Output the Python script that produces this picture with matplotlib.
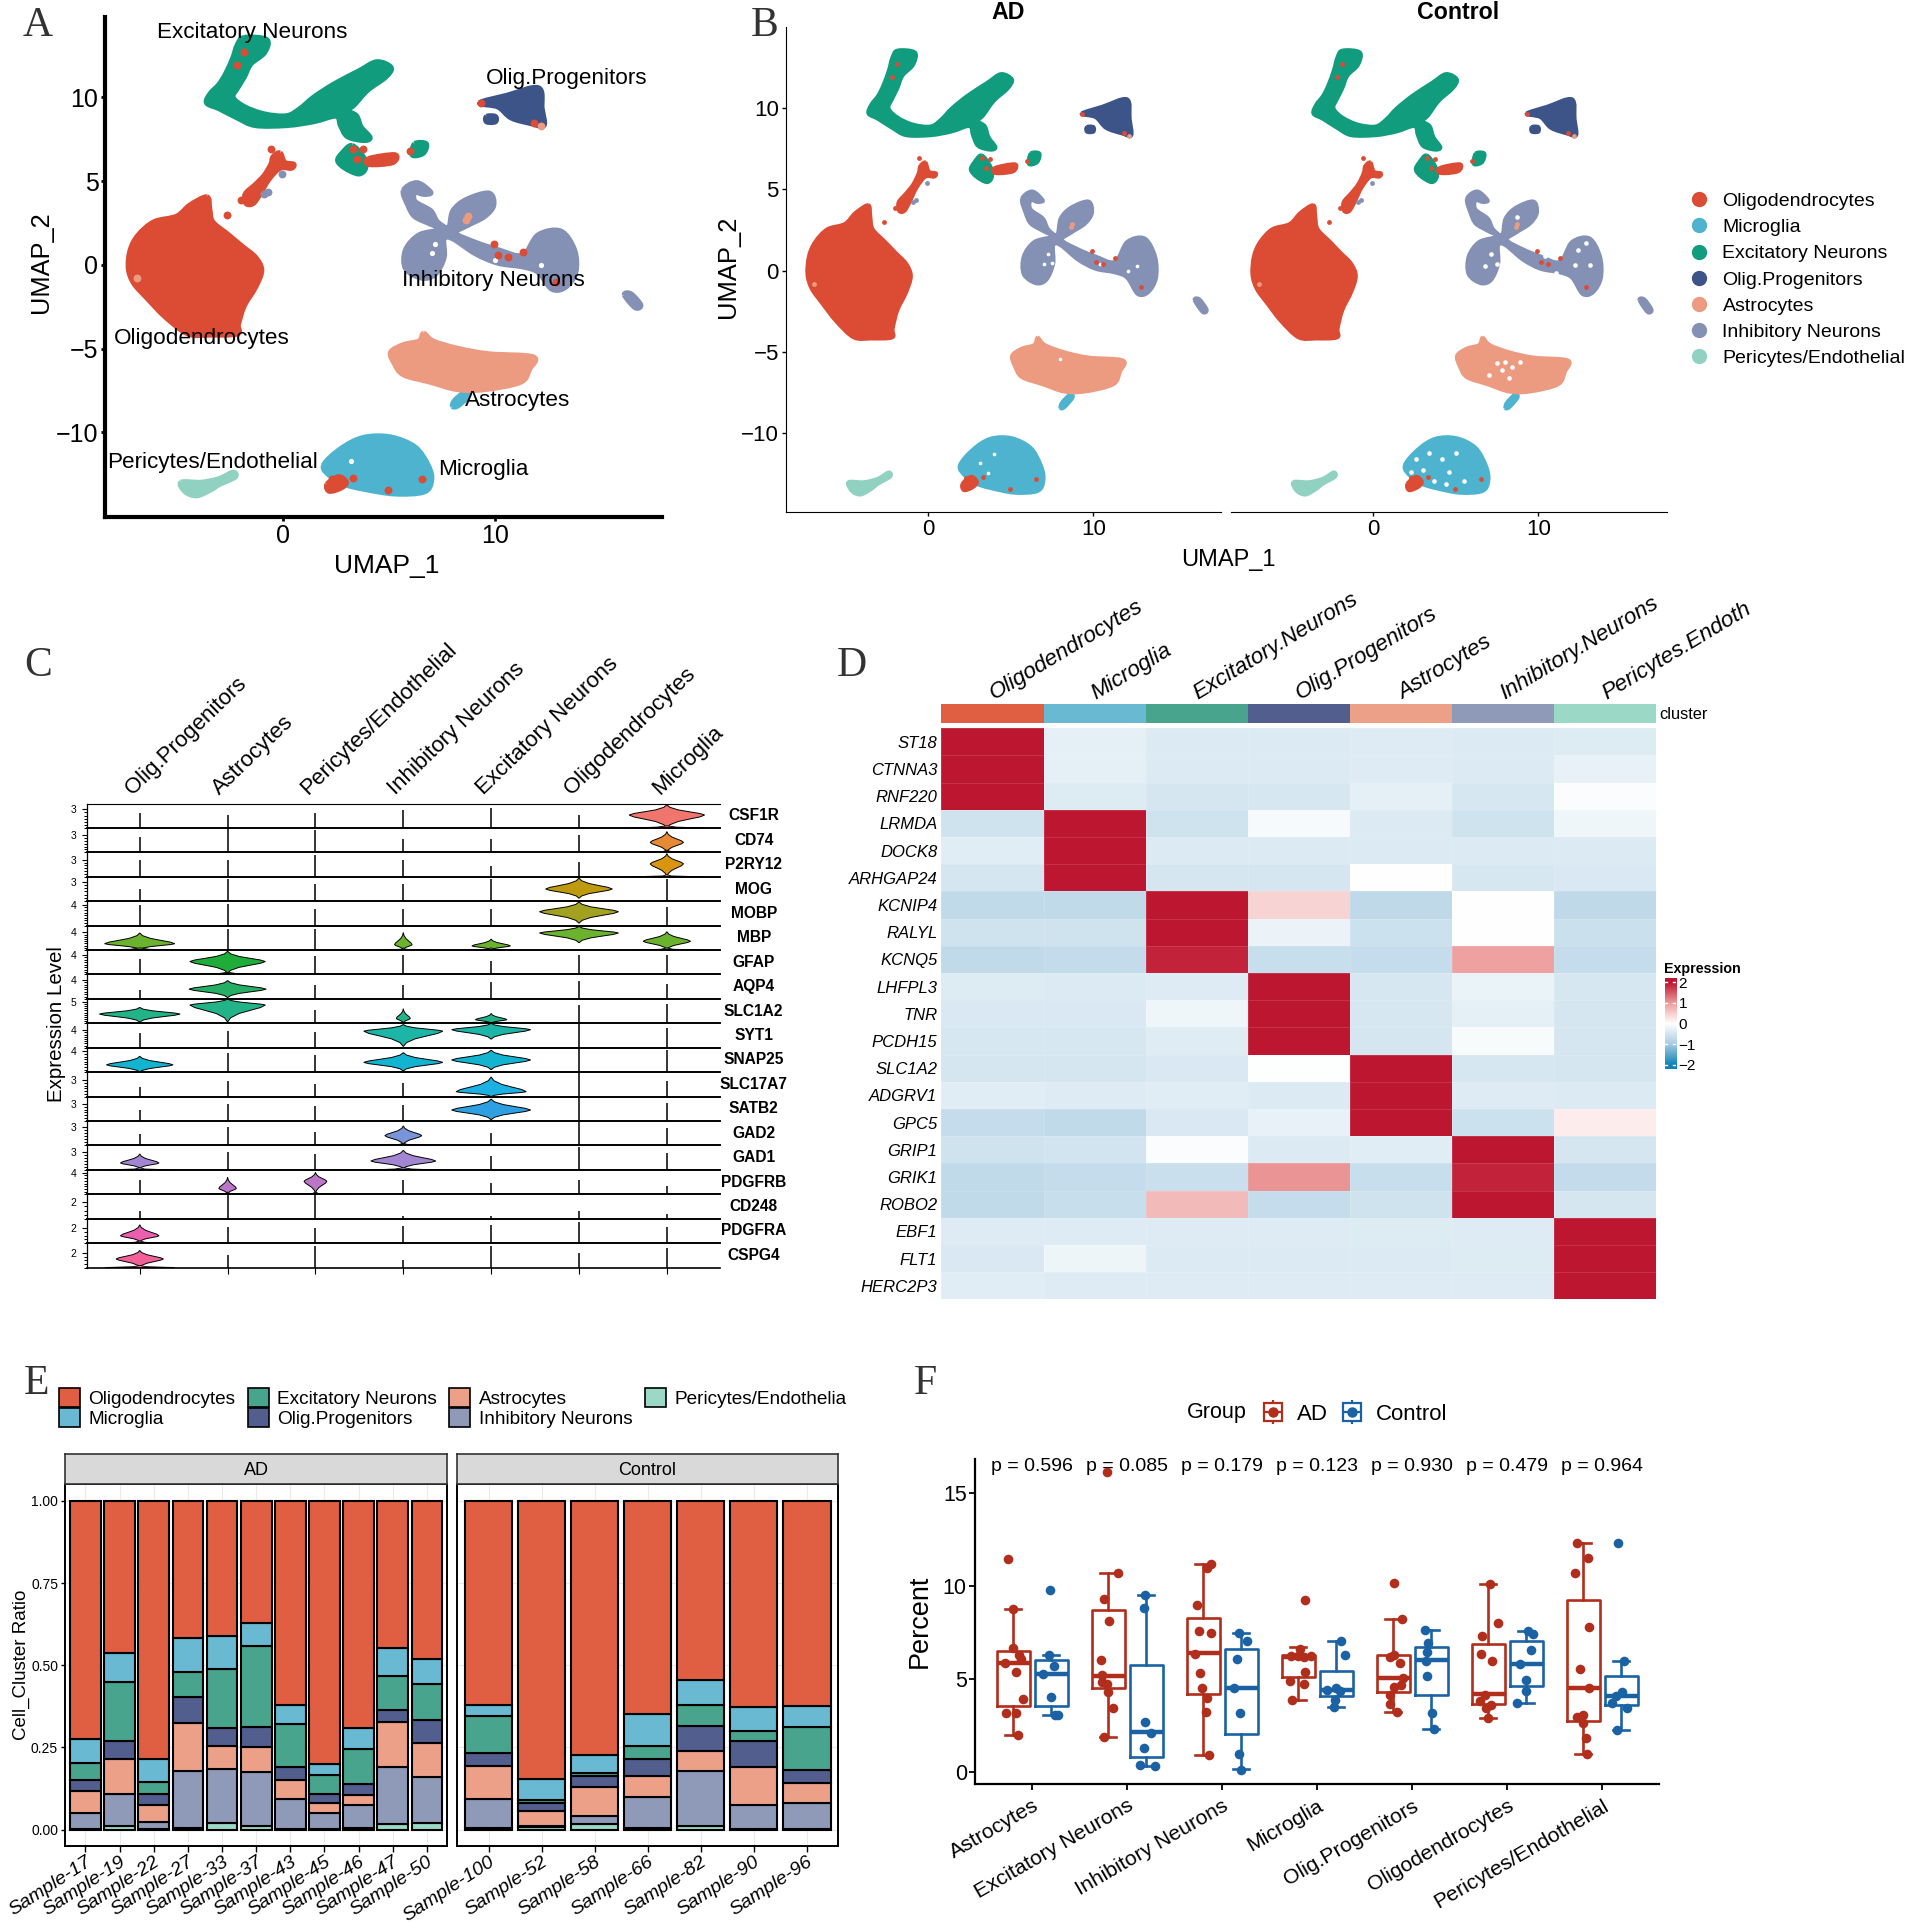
import matplotlib
matplotlib.use("Agg")
import matplotlib.pyplot as plt
import numpy as np
from matplotlib.colors import LinearSegmentedColormap, ListedColormap
from matplotlib.legend_handler import HandlerTuple
from matplotlib.lines import Line2D
from matplotlib.patches import Patch, PathPatch
from matplotlib.path import Path

plt.rcParams["font.family"] = ["Liberation Sans", "DejaVu Sans"]

# layout is measured on a roughly 1556 wide copy of the picture
W, H = 1556.5, 1567.9

CELL_TYPES = ["Oligodendrocytes", "Microglia", "Excitatory Neurons", "Olig.Progenitors",
              "Astrocytes", "Inhibitory Neurons", "Pericytes/Endothelial"]
UMAP_COLORS = ["#DC4B33", "#4DB3CE", "#129C7E", "#3C5488", "#EC9A80", "#8491B4", "#91D1C2"]
BAR_COLORS = ["#E05F42", "#68B9D1", "#48A48D", "#525E8E", "#ECA088", "#8F9AB9", "#9BD8C6"]

# ---- UMAP outlines (UMAP_1, UMAP_2)
OLIGO_BLOB = [(-3.6, 4.04), (-3.47, 3.33), (-3.33, 2.56), (-2.58, 1.78), (-1.95, 1.11), (-1.31, 0.44),
              (-1.02, -0.33), (-1.31, -1.33), (-1.84, -2.44), (-2.12, -3.56), (-2.16, -4.11), (-3.43, -4.18),
              (-4.49, -4.11), (-5.55, -3.11), (-6.4, -2.0), (-7.03, -1.11), (-7.29, -0.22), (-7.2, 0.89),
              (-6.82, 1.78), (-6.08, 2.56), (-5.02, 2.89), (-4.39, 3.56)]
OLIGO_STREAK = [(-0.15, 6.67), (0.06, 6.11), (0.49, 6.0), (0.38, 5.78), (-0.15, 5.78), (-0.68, 5.11),
                (-1.1, 4.22), (-1.42, 3.67), (-1.74, 3.67), (-1.78, 4.22), (-1.31, 4.78), (-0.89, 5.33),
                (-0.57, 6.0), (-0.47, 6.44)]
OLIGO_BAR = [(4.03, 6.33), (5.26, 6.56), (5.15, 6.11), (4.08, 6.0)]
OLIGO_PATCH = [(2.08, -13.11), (2.61, -12.67), (2.97, -13.0), (2.71, -13.33), (2.18, -13.51)]
EXC_MAIN = [(-1.84, 13.56), (-0.78, 13.44), (-0.89, 12.67), (-1.53, 12.0), (-1.84, 11.22), (-2.16, 10.56),
            (-2.37, 10.0), (-1.84, 9.44), (-0.89, 9.0), (0.17, 8.89), (0.81, 9.33), (1.44, 10.0), (2.39, 10.78),
            (3.56, 11.56), (4.41, 12.11), (5.08, 11.78), (4.83, 11.22), (3.98, 10.44), (3.35, 9.56), (3.03, 9.22),
            (3.45, 8.89), (3.67, 8.22), (4.09, 7.6), (3.77, 7.44), (3.03, 7.67), (2.71, 8.33), (2.5, 8.89),
            (1.44, 8.56), (0.17, 8.33), (-1.31, 8.33), (-2.16, 8.78), (-3.01, 9.33), (-3.6, 9.67), (-3.43, 10.22),
            (-3.01, 10.78), (-2.69, 11.44), (-2.37, 12.33), (-2.16, 13.11)]
EXC_SMALL = [(3.24, 7.11), (3.77, 6.44), (3.88, 5.78), (3.56, 5.44), (2.92, 5.78), (2.58, 6.22), (2.79, 6.67)]
EXC_TINY = [(6.21, 7.22), (6.74, 7.22), (6.6, 6.67), (6.1, 6.56)]
OPC_MAIN = [(9.28, 9.67), (10.55, 10.11), (12.03, 10.56), (12.2, 9.33), (12.29, 8.33), (11.72, 8.44),
            (10.76, 8.78), (10.13, 9.44)]
OPC_SMALL = [(9.6, 8.85), (10.0, 8.85), (10.0, 8.55), (9.6, 8.55)]
INH_MAIN = [(5.68, 4.44), (6.31, 4.89), (6.95, 4.33), (6.63, 4.22), (6.21, 4.33), (6.21, 3.78), (6.95, 3.22),
            (7.27, 2.56), (7.8, 2.22), (8.01, 3.22), (8.64, 3.89), (9.7, 4.27), (9.92, 3.56), (9.49, 2.89),
            (8.64, 2.33), (8.11, 1.89), (9.07, 1.33), (10.13, 0.89), (11.29, 0.56), (12.03, 1.78), (13.09, 2.0),
            (13.73, 0.89), (13.79, -0.44), (13.31, -1.33), (12.67, -1.44), (12.03, -0.44), (11.29, -0.11),
            (10.13, 0.11), (9.07, 0.67), (8.01, 1.56), (7.58, 1.56), (7.58, 0.44), (7.16, -0.56), (6.53, -0.78),
            (5.78, -0.22), (5.78, 0.89), (6.42, 1.78), (7.48, 2.11), (6.95, 2.44), (6.21, 2.89), (5.89, 3.56)]
INH_TINY = [(16.1, -1.8), (16.4, -1.75), (16.85, -2.4), (16.6, -2.55)]
ASTRO_MAIN = [(6.63, -4.11), (7.06, -4.56), (8.22, -5.0), (9.7, -5.33), (11.78, -5.51), (11.61, -6.22),
              (11.19, -7.0), (9.49, -7.44), (8.22, -7.44), (6.95, -7.0), (5.68, -6.56), (5.25, -5.89),
              (5.08, -5.22), (5.68, -4.78), (6.42, -4.56)]
MICRO_MAIN = [(1.91, -12.0), (2.71, -11.0), (3.77, -10.33), (5.04, -10.29), (6.21, -10.89), (6.84, -12.0),
              (6.99, -12.89), (6.63, -13.56), (5.25, -13.67), (3.77, -13.38), (2.92, -13.11), (2.29, -12.67)]
MICRO_TINY = [(8.0, -8.45), (8.1, -8.1), (8.6, -7.6), (8.75, -7.8), (8.25, -8.4)]
PERI_MAIN = [(-4.81, -13.0), (-3.86, -13.0), (-3.01, -12.78), (-2.37, -12.4), (-2.27, -12.67), (-3.01, -13.11),
             (-3.43, -13.44), (-4.07, -13.78), (-4.6, -13.56)]

# drawn in this order
UMAP_SHAPES = [(MICRO_MAIN, 1), (MICRO_TINY, 1), (PERI_MAIN, 6), (ASTRO_MAIN, 4), (EXC_MAIN, 2), (EXC_SMALL, 2),
               (EXC_TINY, 2), (OPC_MAIN, 3), (OPC_SMALL, 3), (INH_MAIN, 5), (INH_TINY, 5), (OLIGO_BLOB, 0),
               (OLIGO_STREAK, 0), (OLIGO_BAR, 0), (OLIGO_PATCH, 0)]
OLIGO_DOTS_X = [-0.57, -2.01, -2.65, 3.77, 3.28, 6.0, 9.32, 11.82, 9.92, 10.13, 10.6, 11.29, 12.88, 2.29, 3.31, 4.94,
                6.53, -2.16, -1.84, 3.5]
OLIGO_DOTS_Y = [6.93, 3.89, 3.0, 6.89, 6.93, 6.78, 9.67, 8.49, 1.22, 0.56, 0.44, 0.78, -1.0, -12.78, -12.71, -13.44,
                -12.82, 11.93, 12.71, 6.3]
INH_DOTS_X = [-0.72, -0.89, -0.06]
INH_DOTS_Y = [4.33, 4.22, 5.4]
ASTRO_DOTS_X = [-6.9, 8.64, 8.7, 12.14]
ASTRO_DOTS_Y = [-0.8, 2.67, 2.9, 8.29]

# gaps in the point clouds
HOLES_A_X = [7.16, 7.0, 12.14, 3.2, 10.0]
HOLES_A_Y = [1.22, 0.7, -0.04, -11.7, 0.3]
HOLES_AD_X = [7.28, 7.0, 7.5, 12.1, 12.6, 10.4, 3.13, 3.6, 4.0, 8.0]
HOLES_AD_Y = [1.03, 0.4, 0.5, 0.0, 0.3, 0.4, -11.8, -12.47, -11.3, -5.4]
HOLES_CTRL_X = [7.5, 8.0, 8.4, 7.8, 8.9, 7.0, 8.2, 4.15, 3.0, 4.6, 5.5, 3.7, 2.3, 3.4, 5.0, 2.6, 4.4, 7.14, 6.8, 7.5,
                12.4, 12.2, 13.1, 11.06, 12.9, 10.4, 8.7, 7.0]
HOLES_CTRL_Y = [-5.7, -5.6, -5.9, -6.1, -5.6, -6.4, -6.6, -11.56, -12.24, -12.36, -12.93, -12.93, -12.4, -11.2, -11.2,
                -11.6, -13.1, 1.03, 0.3, 0.4, 1.26, 0.34, 0.34, -0.11, 1.7, 0.9, 3.3, 3.6]

LABEL_X = [-7.98, 7.3, -5.95, 9.54, 8.55, 5.6, -8.32]
LABEL_Y = [-4.4, -12.2, 13.9, 11.13, -8.1, -0.95, -11.8]

# ---- panel C
COLUMNS_C = ["Olig.Progenitors", "Astrocytes", "Pericytes/Endothelial", "Inhibitory Neurons",
             "Excitatory Neurons", "Oligodendrocytes", "Microglia"]
GENES_C = ["CSF1R", "CD74", "P2RY12", "MOG", "MOBP", "MBP", "GFAP", "AQP4", "SLC1A2", "SYT1", "SNAP25",
           "SLC17A7", "SATB2", "GAD2", "GAD1", "PDGFRB", "CD248", "PDGFRA", "CSPG4"]
GENE_COLORS = ["#F0766D", "#E68A35", "#D9950F", "#BE9B0E", "#A3A120", "#6BB22E", "#1FAD39", "#25AE64", "#22B388",
               "#1DB5A6", "#12B4D0", "#1CB1E2", "#2E9FE0", "#7994D8", "#A286D2", "#BC76C8", "#D56FC0", "#EC5FB0",
               "#F2609A"]
TICK_LABELS_C = [3, 3, 3, 3, 4, 4, 4, 4, 5, 4, 4, 3, 3, 3, 3, 4, 2, 2, 2]
TICK_FRAC_C = [.76, .72, .7, .8, .86, .72, .8, .78, .88, .72, .85, .68, .7, .75, .75, .88, .67, .6, .6]
# height of the flat violins per column, 0 where a real violin sits
STEMS = [[.62, .55, .6, .72, .8, .55, 0], [.65, .95, .9, .55, .55, .7, 0], [.68, .68, .9, .7, .45, .6, 0],
         [.5, .9, .7, .7, .9, 0, .9], [.85, .9, .7, .7, .7, 0, .75], [0, .85, .85, 0, 0, 0, 0],
         [.65, 0, .75, .8, .55, .8, .8], [.35, 0, .55, .55, .7, .75, .6], [0, 0, .55, 0, 0, .75, .8],
         [.6, .7, .65, 0, 0, 1, .8], [0, .8, .7, 0, 0, 1, .9], [.4, .65, .5, .55, 0, 1, .65],
         [.45, .7, .6, .65, 0, 1, .75], [.45, .75, .55, 0, .5, 1, .7], [0, .75, .65, 0, .55, .95, .7],
         [.6, 0, 0, .6, .45, .6, .35], [.3, 1, 1, .1, .1, .3, .2], [0, .65, .6, .7, .75, .85, .65],
         [0, .5, .9, .3, .9, .6, .8]]
# gene index: (column, centre, half width, low, top, foot half width)
VIOLINS = {0: [(6, .53, .43, 0, .95, .43)], 1: [(6, .41, .19, 0, .85, .35)], 2: [(6, .53, .19, 0, .95, .42)],
           3: [(5, .5, .38, .12, .95, 0)], 4: [(5, .57, .45, .1, .97, 0)],
           5: [(0, .26, .4, .02, .7, .4), (3, .22, .1, 0, .72, .28), (4, .17, .22, 0, .45, .25),
               (5, .7, .45, .3, .97, 0), (6, .36, .27, .02, .75, .37)],
           6: [(1, .53, .43, .05, .95, .45)], 7: [(1, .4, .44, .05, .75, 0)],
           8: [(0, .38, .46, .05, .65, 0), (1, .75, .43, .05, 1, 0), (3, .2, .08, 0, .6, 0), (4, .15, .18, 0, .4, 0)],
           9: [(3, .68, .45, .05, .95, 0), (4, .74, .45, .35, 1, 0)],
           10: [(0, .3, .38, 0, .65, 0), (3, .4, .45, .05, .8, 0), (4, .5, .45, .1, .9, 0)],
           11: [(4, .2, .4, 0, .8, 0)], 12: [(4, .45, .45, .05, .9, 0)], 13: [(3, .4, .21, .02, .8, .43)],
           14: [(0, .28, .22, .05, .65, .35), (3, .36, .37, .05, .8, .35)],
           15: [(1, .24, .1, 0, .7, .2), (2, .53, .13, .02, .9, .4)],
           17: [(0, .3, .22, .05, .75, .25)], 18: [(0, .35, .27, 0, .7, .4)]}
VIOLIN_T = [-1, -.75, -.5, -.3, -.15, 0, .15, .3, .5, .75, 1]
VIOLIN_W = [0, .08, .3, .62, .87, 1, .87, .62, .3, .08, 0]

# ---- panel D
COLUMNS_D = ["Oligodendrocytes", "Microglia", "Excitatory.Neurons", "Olig.Progenitors", "Astrocytes",
             "Inhibitory.Neurons", "Pericytes.Endoth"]
GENES_D = ["ST18", "CTNNA3", "RNF220", "LRMDA", "DOCK8", "ARHGAP24", "KCNIP4", "RALYL", "KCNQ5", "LHFPL3", "TNR",
           "PCDH15", "SLC1A2", "ADGRV1", "GPC5", "GRIP1", "GRIK1", "ROBO2", "EBF1", "FLT1", "HERC2P3"]
EXPRESSION = [[2, -.3, -.42, -.42, -.38, -.42, -.4],
              [2, -.3, -.42, -.42, -.38, -.42, -.28],
              [2, -.4, -.5, -.48, -.3, -.48, -.05],
              [-.55, 2, -.55, -.1, -.42, -.55, -.18],
              [-.35, 2, -.42, -.42, -.42, -.42, -.42],
              [-.5, 2, -.5, -.5, 0, -.48, -.45],
              [-.72, -.72, 2, .45, -.75, 0, -.75],
              [-.55, -.55, 2, -.22, -.58, 0, -.6],
              [-.72, -.7, 1.9, -.65, -.68, .95, -.68],
              [-.4, -.42, -.38, 2, -.48, -.25, -.48],
              [-.45, -.45, -.18, 2, -.48, -.3, -.5],
              [-.48, -.48, -.36, 2, -.5, -.08, -.5],
              [-.5, -.5, -.45, -.02, 2, -.48, -.5],
              [-.35, -.38, -.35, -.42, 2, -.38, -.42],
              [-.68, -.72, -.45, -.28, 2, -.58, .2],
              [-.55, -.52, -.05, -.42, -.35, 2, -.5],
              [-.72, -.68, -.62, 1.05, -.65, 1.9, -.7],
              [-.72, -.65, .7, -.68, -.55, 2, -.5],
              [-.38, -.38, -.38, -.38, -.4, -.38, 2],
              [-.45, -.2, -.42, -.42, -.42, -.4, 2],
              [-.35, -.38, -.38, -.38, -.38, -.38, 2]]

# ---- panel E: running top of each stack segment, per sample
SAMPLES_AD = ["Sample-17", "Sample-19", "Sample-22", "Sample-27", "Sample-33", "Sample-37", "Sample-43",
              "Sample-45", "Sample-46", "Sample-47", "Sample-50"]
PERI_AD = [.002, .01, .003, .005, .02, .01, .002, .002, .004, .017, .02]
INH_AD = [.05, .11, .024, .18, .185, .175, .093, .05, .076, .19, .16]
ASTRO_AD = [.117, .214, .076, .326, .254, .25, .15, .08, .105, .328, .265]
OPC_AD = [.15, .27, .108, .403, .31, .313, .19, .11, .14, .365, .335]
EXC_AD = [.204, .45, .146, .479, .49, .56, .32, .165, .245, .467, .443]
MICRO_AD = [.275, .537, .216, .582, .589, .628, .38, .2, .31, .553, .52]
SAMPLES_CTRL = ["Sample-100", "Sample-52", "Sample-58", "Sample-66", "Sample-82", "Sample-90", "Sample-96"]
PERI_CTRL = [.004, .008, .018, .005, .012, .003, .003]
INH_CTRL = [.093, .01, .042, .098, .18, .075, .08]
ASTRO_CTRL = [.195, .058, .13, .162, .238, .19, .142]
OPC_CTRL = [.233, .08, .162, .215, .315, .27, .183]
EXC_CTRL = [.347, .09, .172, .256, .378, .3, .312]
MICRO_CTRL = [.378, .153, .228, .352, .456, .372, .377]

# ---- panel F
GROUPS_F = ["Astrocytes", "Excitatory Neurons", "Inhibitory Neurons", "Microglia", "Olig.Progenitors",
            "Oligodendrocytes", "Pericytes/Endothelial"]
P_VALUES = ["p = 0.596", "p = 0.085", "p = 0.179", "p = 0.123", "p = 0.930", "p = 0.479", "p = 0.964"]
# whisker low, q1, median, q3, whisker high
BOX_AD = [[2.0, 3.56, 5.9, 6.5, 8.8], [1.9, 4.51, 5.19, 8.71, 10.72], [.91, 4.22, 6.39, 8.3, 11.2],
          [3.91, 5.13, 6.19, 6.31, 6.72], [3.25, 4.32, 5.09, 6.29, 8.23], [2.94, 3.68, 4.2, 6.89, 10.1],
          [1.01, 2.77, 4.55, 9.25, 12.33]]
BOX_CTRL = [[3.08, 3.56, 5.3, 6.04, 6.29], [.37, .83, 2.17, 5.79, 9.54], [.17, 2.07, 4.53, 6.62, 7.47],
            [3.5, 4.1, 4.45, 5.44, 7.03], [2.34, 4.18, 6.02, 6.74, 7.66], [3.72, 4.66, 5.81, 7.03, 7.61],
            [2.26, 3.6, 4.1, 5.15, 5.96]]
# points as (offset from the group centre, percent)
POINTS_AD = [[(-.25, 11.48), (-.2, 8.8), (-.2, 6.66), (-.29, 5.9), (-.14, 6.29), (-.17, 5.38), (-.1, 3.93),
              (-.27, 3.19), (-.17, 3.19), (-.15, 2.01), (-.12, 6.1)],
             [(-.21, 16.12), (-.1, 10.72), (-.24, 9.29), (-.19, 8.13), (-.28, 6.06), (-.26, 5.23), (-.26, 4.84),
              (-.21, 4.74), (-.2, 4.32), (-.15, 3.48), (-.24, 1.9)],
             [(-.12, 11.2), (-.16, 10.99), (-.26, 9.0), (-.24, 7.59), (-.12, 7.47), (-.29, 6.37), (-.23, 5.34),
              (-.21, 4.51), (-.16, 3.99), (-.17, 3.23), (-.14, .91)],
             [(-.13, 9.25), (-.18, 6.64), (-.28, 6.27), (-.2, 6.27), (-.14, 6.19), (-.06, 6.27), (-.13, 5.38),
              (-.29, 4.9), (-.14, 4.76), (-.26, 3.91)],
             [(-.19, 10.18), (-.11, 8.23), (-.19, 6.29), (-.23, 6.19), (-.13, 5.9), (-.1, 5.07), (-.19, 4.61),
              (-.12, 4.68), (-.23, 4.16), (-.23, 3.68), (-.16, 3.25)],
             [(-.18, 10.1), (-.1, 8.03), (-.27, 7.35), (-.28, 6.37), (-.16, 5.98), (-.23, 4.16), (-.29, 3.83),
              (-.17, 3.64), (-.22, 3.48), (-.2, 2.94)],
             [(-.26, 12.33), (-.15, 11.5), (-.29, 10.68), (-.14, 7.82), (-.23, 5.55), (-.14, 4.53), (-.2, 3.1),
              (-.27, 2.96), (-.2, 2.67), (-.17, 1.86), (-.16, 1.01)]]
POINTS_CTRL = [[(.19, 9.81), (.18, 6.31), (.23, 5.71), (.11, 5.28), (.2, 4.03), (.24, 3.1), (.27, 3.06)],
               [(.19, 9.54), (.18, 8.81), (.19, 2.73), (.25, 2.13), (.18, 1.3), (.14, .41), (.29, .37)],
               [(.18, 7.47), (.26, 7.06), (.16, 6.08), (.13, 4.53), (.19, 3.17), (.18, .97), (.2, .14)],
               [(.25, 7.03), (.29, 6.29), (.1, 4.45), (.2, 4.55), (.24, 4.35), (.19, 3.91), (.18, 3.5)],
               [(.14, 7.66), (.17, 6.97), (.16, 6.48), (.15, 6.0), (.16, 5.15), (.21, 3.21), (.23, 2.34)],
               [(.22, 7.6), (.27, 7.45), (.25, 6.58), (.13, 5.81), (.2, 4.97), (.2, 4.39), (.1, 3.72)],
               [(.17, 12.33), (.23, 5.96), (.21, 4.3), (.15, 4.12), (.1, 3.72), (.26, 3.48), (.16, 2.26)]]
AD_COLOR = "#B02E1B"
CTRL_COLOR = "#1B62A5"


def add_panel(x0, y0, x1, y1):
    return fig.add_axes([x0 / W, 1 - y1 / H, (x1 - x0) / W, (y1 - y0) / H])


def rounded_path(shape):
    # closed curve through the outline vertices
    pts = np.array(shape, dtype=float)
    n = len(pts)
    verts = [pts[0]]
    codes = [Path.MOVETO]
    for i in range(n):
        p0, p1, p2, p3 = pts[i - 1], pts[i], pts[(i + 1) % n], pts[(i + 2) % n]
        verts += [p1 + (p2 - p0) / 6, p2 - (p3 - p1) / 6, p2]
        codes += [Path.CURVE4] * 3
    return Path(verts, codes)


def draw_umap(ax, lw, dot, holes_x, holes_y, hole_size):
    for shape, idx in UMAP_SHAPES:
        ax.add_patch(PathPatch(rounded_path(shape), fc=UMAP_COLORS[idx], ec=UMAP_COLORS[idx], lw=lw,
                               joinstyle="round", zorder=2))
    ax.scatter(holes_x, holes_y, s=hole_size, c="white", lw=0, zorder=3)
    ax.scatter(INH_DOTS_X, INH_DOTS_Y, s=dot, c=UMAP_COLORS[5], lw=0, zorder=4)
    ax.scatter(OLIGO_DOTS_X, OLIGO_DOTS_Y, s=dot, c=UMAP_COLORS[0], lw=0, zorder=4)
    ax.scatter(ASTRO_DOTS_X, ASTRO_DOTS_Y, s=dot, c=UMAP_COLORS[4], lw=0, zorder=4)
    for side in ["top", "right"]:
        ax.spines[side].set_visible(False)


fig = plt.figure(figsize=(19.08, 19.22), dpi=100)

# ---- A
ax = add_panel(86, 14, 540, 422)
draw_umap(ax, 4, 32, HOLES_A_X, HOLES_A_Y, 14)
ax.set_xlim(-8.38, 17.86)
ax.set_ylim(-15.08, 14.79)
ax.set_xticks([0, 10])
ax.set_yticks([-10, -5, 0, 5, 10])
ax.tick_params(labelsize=18, length=3, width=2, pad=2)
for side in ["left", "bottom"]:
    ax.spines[side].set_linewidth(3)
ax.set_xlabel("UMAP_1", fontsize=19, labelpad=4, x=0.505)
ax.set_ylabel("UMAP_2", fontsize=18.3, labelpad=2, y=0.51)
for name, lx, ly in zip(CELL_TYPES, LABEL_X, LABEL_Y):
    ax.text(lx, ly, name, fontsize=16.2, va="center", ha="left", zorder=6)

# ---- B
ax_ad = add_panel(641, 22, 996, 418)
ax_ct = add_panel(1004, 22, 1360, 418)
draw_umap(ax_ad, 2.6, 12, HOLES_AD_X, HOLES_AD_Y, 7)
draw_umap(ax_ct, 2.6, 12, HOLES_CTRL_X, HOLES_CTRL_Y, 11)
for ax in [ax_ad, ax_ct]:
    ax.set_xticks([0, 10])
    ax.set_ylim(-14.87, 15.0)
    ax.tick_params(labelsize=16, length=3, width=1, pad=2)
ax_ad.set_xlim(-8.59, 17.7)
ax_ct.set_xlim(-8.59, 17.78)
ax_ad.set_yticks([-10, -5, 0, 5, 10])
ax_ct.set_yticks([])
ax_ct.spines["left"].set_visible(False)
ax_ad.set_ylabel("UMAP_2", fontsize=18.4, labelpad=1, y=0.505)
ax_ad.set_xlabel("UMAP_1", fontsize=17, x=1.018, labelpad=6)
ax_ad.text(0.51, 1.03, "AD", transform=ax_ad.transAxes, fontsize=16.7, fontweight="bold", ha="center", va="center")
ax_ct.text(0.522, 1.03, "Control", transform=ax_ct.transAxes, fontsize=16.7, fontweight="bold", ha="center",
           va="center")
handles_b = [Line2D([], [], ls="", marker="o", ms=10, color=c) for c in UMAP_COLORS]
fig.legend(handles=handles_b, labels=CELL_TYPES, loc="upper left", bbox_to_anchor=(1375 / W, 1 - 157 / H),
           frameon=False, fontsize=14, labelspacing=0.44, handletextpad=0.5, handlelength=1.4,
           borderpad=0, borderaxespad=0)

# ---- C
row_h = (1034 - 655.5) / len(GENES_C)
for r, gene in enumerate(GENES_C):
    ax = add_panel(71, 655.5 + r * row_h, 587, 655.5 + (r + 1) * row_h)
    ax.set_xlim(-0.6, 6.6)
    ax.set_ylim(0, 1)
    for c, h in enumerate(STEMS[r]):
        if h > 0:
            ax.plot([c, c], [0, h], color="black", lw=1.1, solid_capstyle="butt")
    for col, yc, hw, low, top, foot in VIOLINS.get(r, []):
        ys = [yc + t * ((top - yc) if t > 0 else (yc - low)) for t in VIOLIN_T]
        xs_r = [col + hw * w for w in VIOLIN_W]
        xs_l = [col - hw * w for w in VIOLIN_W]
        ax.fill(xs_r + xs_l[::-1], ys + ys[::-1], fc=GENE_COLORS[r], ec="black", lw=0.7)
        if foot:
            ax.fill([col - foot, col - hw * .25, col, col + hw * .25, col + foot],
                    [0, .035, .09, .035, 0], fc=GENE_COLORS[r], ec="black", lw=0.6)
    frac = TICK_FRAC_C[r]
    lab = TICK_LABELS_C[r]
    ax.set_yticks([frac], labels=[str(lab)])
    ax.set_yticks([frac * k / lab for k in range(lab)] + [frac * (k + .5) / lab for k in range(lab)], minor=True)
    ax.tick_params(axis="y", which="major", labelsize=7.5, length=3.5, width=0.8, pad=4)
    ax.tick_params(axis="y", which="minor", length=2, width=0.7)
    ax.spines["left"].set_linewidth(0.9)
    ax.spines["right"].set_visible(False)
    ax.spines["top"].set_linewidth(0.8 if r == 0 else 1.2)
    ax.spines["bottom"].set_linewidth(1.2)
    ax.set_xticks(range(7))
    ax.tick_params(axis="x", length=4 if r == 18 else 0, labelbottom=False, width=0.8)
    ax.patch.set_alpha(0)
    ax.text(1.054, 0.5, gene, transform=ax.transAxes, fontsize=11.2, fontweight="bold", va="center", ha="center")
    if r == 0:
        for c, name in enumerate(COLUMNS_C):
            ax.annotate(name, (c, 1), xytext=(-3, 3), textcoords="offset points", rotation=44, fontsize=16,
                        ha="left", va="bottom", rotation_mode="anchor", annotation_clip=False)

# ---- D
cmap_d = LinearSegmentedColormap.from_list("expr", ["#0F84B9", "#A9CCE2", "#FFFFFF", "#EE9C9C", "#BD1630"])
ax = add_panel(768, 594, 1351, 1060)
ax.pcolormesh(np.array(EXPRESSION), cmap=cmap_d, vmin=-2, vmax=2, edgecolors=(1, 1, 1, 0.12), linewidth=0.4)
ax.set_ylim(len(GENES_D), 0)
ax.set_xlim(0, 7)
ax.set_xticks([])
ax.set_yticks(np.arange(len(GENES_D)) + .5, labels=GENES_D, fontstyle="italic", fontsize=12)
ax.tick_params(axis="y", length=0, pad=3)
for spine in ax.spines.values():
    spine.set_visible(False)

ax = add_panel(768, 574, 1351, 590)
ax.pcolormesh(np.arange(7).reshape(1, 7), cmap=ListedColormap(BAR_COLORS))
ax.set_xticks([])
ax.set_yticks([])
for spine in ax.spines.values():
    spine.set_visible(False)
ax.text(1.004, 0.45, "cluster", transform=ax.transAxes, fontsize=11.8, va="center")
for c, name in enumerate(COLUMNS_D):
    ax.annotate(name, (c + .47, 1), xytext=(5, 0), textcoords="offset points", rotation=31, fontsize=16.2,
                fontstyle="italic", ha="left", va="bottom", rotation_mode="anchor", annotation_clip=False)

ax = add_panel(1358, 798, 1367, 872)
ax.imshow(np.linspace(2.2, -2.2, 120).reshape(-1, 1), cmap=cmap_d, vmin=-2, vmax=2, aspect="auto",
          extent=[0, 1, -2.2, 2.2])
ax.set_xticks([])
ax.yaxis.tick_right()
ax.set_yticks([-2, -1, 0, 1, 2], labels=["\u22122", "\u22121", "0", "1", "2"])
ax.tick_params(axis="y", length=0, labelsize=11, pad=2)
for v in [-2, -1, 1, 2]:
    ax.plot([0, .22], [v, v], color="white", lw=1)
    ax.plot([.78, 1], [v, v], color="white", lw=1)
ax.set_xlim(0, 1)
ax.set_ylim(-2.2, 2.2)
for spine in ax.spines.values():
    spine.set_visible(False)
ax.text(-0.1, 1.03, "Expression", transform=ax.transAxes, fontsize=10.3, fontweight="bold", va="bottom", ha="left")


# ---- E
def stacked(ax, samples, tops):
    x = np.arange(len(samples))
    prev = np.zeros(len(samples))
    # bottom to top: pericytes, inhibitory, astrocytes, OPC, excitatory, microglia, oligodendrocytes
    for top_vals, color_idx in zip(tops, [6, 5, 4, 3, 2, 1, 0]):
        top_vals = np.array(top_vals)
        ax.bar(x, top_vals - prev, bottom=prev, width=0.9, color=BAR_COLORS[color_idx], edgecolor="black", lw=1.5,
               zorder=3)
        prev = top_vals
    ax.set_xlim(-0.6, len(samples) - 0.4)
    ax.set_ylim(-0.05, 1.05)
    ax.set_xticks(x, labels=samples, rotation=33, ha="right", rotation_mode="anchor", fontsize=14,
                  fontstyle="italic")
    ax.tick_params(axis="x", length=4, width=1, pad=1)
    ax.set_yticks([0, .25, .5, .75, 1], labels=["0.00", "0.25", "0.50", "0.75", "1.00"])
    ax.tick_params(axis="y", labelsize=10, length=3, width=1, pad=2)
    ax.grid(True, color="#EBEBEB", lw=0.8, zorder=0)
    for spine in ax.spines.values():
        spine.set_linewidth(1.4)


ones_ad = [1.0] * len(SAMPLES_AD)
ones_ct = [1.0] * len(SAMPLES_CTRL)
ax = add_panel(53, 1211, 365, 1506)
stacked(ax, SAMPLES_AD, [PERI_AD, INH_AD, ASTRO_AD, OPC_AD, EXC_AD, MICRO_AD, ones_ad])
ax.set_ylabel("Cell_Cluster Ratio", fontsize=13.5, labelpad=1)
ax = add_panel(372.6, 1211, 684, 1506)
stacked(ax, SAMPLES_CTRL, [PERI_CTRL, INH_CTRL, ASTRO_CTRL, OPC_CTRL, EXC_CTRL, MICRO_CTRL, ones_ct])
ax.tick_params(axis="y", left=False, labelleft=False)
for (x0, x1, title) in [(53, 365, "AD"), (372.6, 684, "Control")]:
    strip = add_panel(x0, 1186, x1, 1211)
    strip.set_facecolor("#D9D9D9")
    strip.set_xticks([])
    strip.set_yticks([])
    for spine in strip.spines.values():
        spine.set_linewidth(1.2)
        spine.set_color("#333333")
    strip.text(0.5, 0.47, title, transform=strip.transAxes, ha="center", va="center", fontsize=13)
labels_e = CELL_TYPES[:-1] + ["Pericytes/Endothelia"]
handles_e = [Patch(fc=c, ec="black", lw=1.2) for c in BAR_COLORS]
fig.legend(handles=handles_e, labels=labels_e, ncols=4, loc="upper left", bbox_to_anchor=(48 / W, 1 - 1132.5 / H),
           frameon=False, fontsize=13.7, labelspacing=0.02, handlelength=1.1, handleheight=1.1, handletextpad=0.45,
           columnspacing=0.65, borderpad=0, borderaxespad=0)

# ---- F
ax = add_panel(795.5, 1190, 1353.5, 1455)
for boxes, points, offset, color in [(BOX_AD, POINTS_AD, -.2, AD_COLOR), (BOX_CTRL, POINTS_CTRL, .2, CTRL_COLOR)]:
    stats = [dict(whislo=b[0], q1=b[1], med=b[2], q3=b[3], whishi=b[4], fliers=[]) for b in boxes]
    line = dict(color=color, lw=1.9)
    ax.bxp(stats, positions=np.arange(7) + offset, widths=.35, showfliers=False, boxprops=line, whiskerprops=line,
           capprops=line, medianprops=dict(color=color, lw=3.2, solid_capstyle="butt"), capwidths=.17,
           manage_ticks=False)
    for i, pts in enumerate(points):
        dx, dy = zip(*pts)
        ax.scatter(i + np.array(dx), dy, s=48, color=color, lw=0, zorder=4)
ax.set_xlim(-0.6, 6.6)
ax.set_ylim(-0.6, 16.84)
ax.set_xticks(range(7), labels=GROUPS_F, rotation=30, ha="right", rotation_mode="anchor", fontsize=15.3)
ax.set_yticks([0, 5, 10, 15])
ax.tick_params(axis="y", labelsize=15.5, length=4, width=1.3, pad=2)
ax.tick_params(axis="x", length=4, width=1.3, pad=5)
for side in ["top", "right"]:
    ax.spines[side].set_visible(False)
for side in ["left", "bottom"]:
    ax.spines[side].set_linewidth(1.6)
ax.set_ylabel("Percent", fontsize=19.5, labelpad=7)
for i, p in enumerate(P_VALUES):
    ax.text(i, 16.45, p, ha="center", va="center", fontsize=14)


def group_key(color):
    return (Line2D([], [], ls="", marker="|", ms=17, mew=1.6, color=color),
            Line2D([], [], ls="", marker="s", ms=13, mfc="white", mew=1.6, color=color),
            Line2D([], [], ls="", marker="_", ms=13, mew=1.6, color=color),
            Line2D([], [], ls="", marker="o", ms=6.5, color=color))


fig.legend(handles=[group_key(AD_COLOR), group_key(CTRL_COLOR)], labels=["AD", "Control"], ncols=2, loc="upper left",
           bbox_to_anchor=(1027 / W, 1 - 1145 / H), frameon=False, fontsize=16,
           handler_map={tuple: HandlerTuple(ndivide=1)},
           handlelength=1.3, handletextpad=0.4, columnspacing=0.45, borderpad=0, borderaxespad=0)

# ---- text placed on the whole figure
over = fig.add_axes([0, 0, 1, 1], zorder=10)
over.set_xlim(0, W)
over.set_ylim(H, 0)
over.axis("off")
over.text(968, 1152, "Group", fontsize=15.5, va="center", ha="left")
over.text(46, 835, "Expression Level", fontsize=14.8, rotation=90, va="center", ha="center")
for letter, lx, ly in [("A", 31, 21), ("B", 624, 21), ("C", 31, 543), ("D", 695, 543), ("E", 30, 1129), ("F", 755, 1129)]:
    over.text(lx, ly, letter, family=["Liberation Serif"], fontsize=30, va="center", ha="center", color="#333333")

fig.savefig("out.png", dpi=100)
